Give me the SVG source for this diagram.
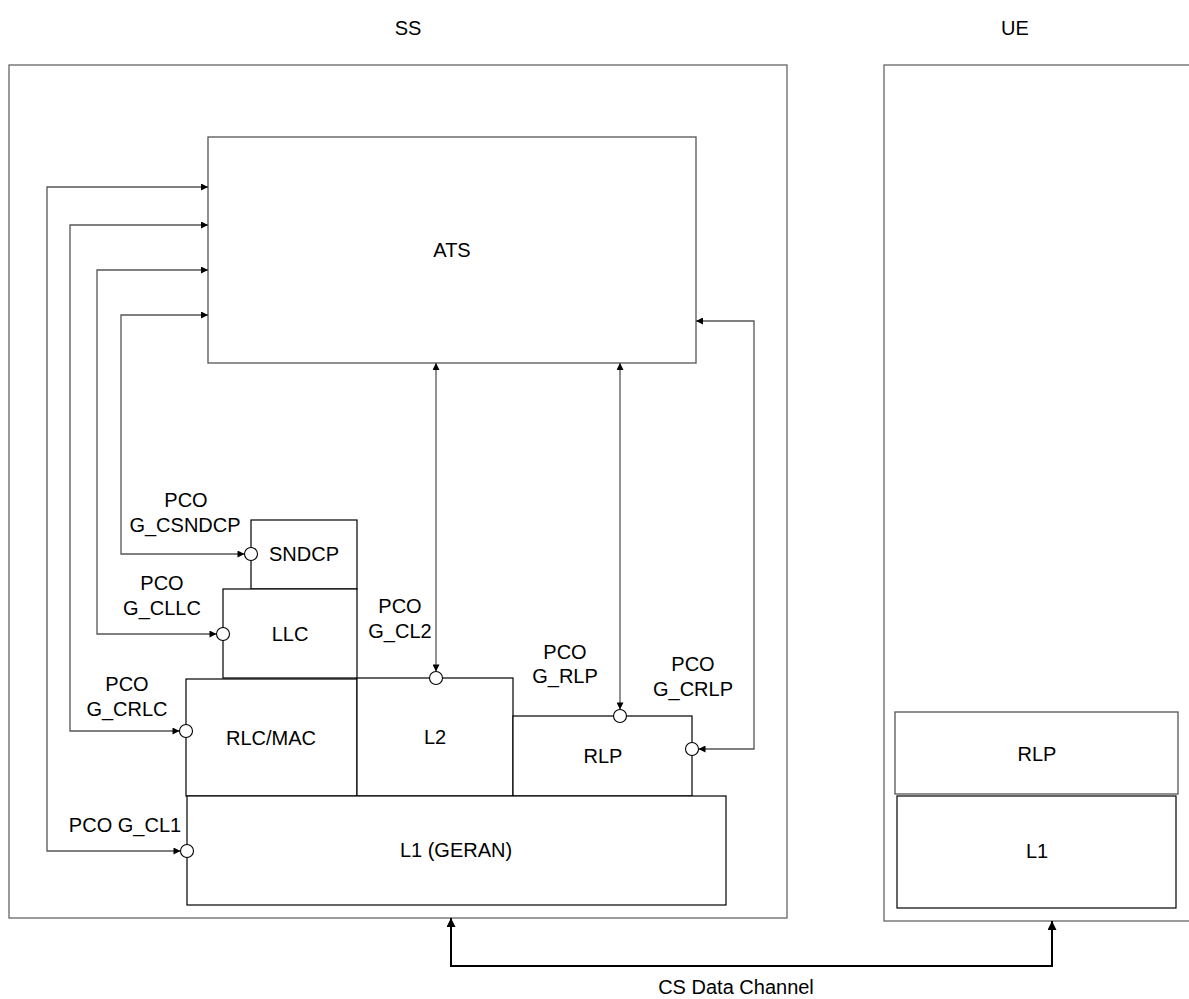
<svg xmlns="http://www.w3.org/2000/svg" width="1189" height="999" viewBox="0 0 1189 999">
<style>
text{font-family:"Liberation Sans",Arial,sans-serif;font-size:20px;fill:#000;text-anchor:middle}
.outer{fill:none;stroke:#666;stroke-width:1.3}
.box{fill:#fff;stroke:#000;stroke-width:1.2}
.gbox{fill:#fff;stroke:#555;stroke-width:1.3}
.pco{fill:#fff;stroke:#000;stroke-width:1.1}
.conn{fill:none;stroke:#555;stroke-width:1.3;marker-start:url(#ah);marker-end:url(#ah)}
.data{fill:none;stroke:#000;stroke-width:2;marker-start:url(#ah2);marker-end:url(#ah2)}
</style>
<defs>
<marker id="ah" viewBox="0 0 10 10" refX="10" refY="5" markerWidth="8" markerHeight="7" markerUnits="userSpaceOnUse" orient="auto-start-reverse"><path d="M0,0 L10,5 L0,10 z" fill="#000"/></marker>
<marker id="ah2" viewBox="0 0 10 10" refX="10" refY="5" markerWidth="12" markerHeight="9" markerUnits="userSpaceOnUse" orient="auto-start-reverse"><path d="M0,0 L10,5 L0,10 z" fill="#000"/></marker>
</defs>
<rect width="1189" height="999" fill="#fff"/>
<g id="ss">
<rect class="outer" x="9" y="65" width="778" height="853"/>
<text x="408" y="35">SS</text>
</g>
<g id="ue">
<rect class="outer" x="884" y="65" width="320" height="856"/>
<text x="1015" y="35">UE</text>
</g>
<g id="ats">
<rect class="gbox" x="208" y="137" width="488" height="226"/>
<text x="452" y="257">ATS</text>
</g>
<g id="sndcp">
<rect class="box" x="251" y="520" width="106" height="69"/>
<text x="304" y="561">SNDCP</text>
</g>
<g id="llc">
<rect class="box" x="223" y="589" width="134" height="89"/>
<text x="290" y="641">LLC</text>
</g>
<g id="rlcmac">
<rect class="box" x="186" y="679" width="171" height="117"/>
<text x="271" y="745">RLC/MAC</text>
</g>
<g id="l2">
<rect class="box" x="357" y="678" width="156" height="118"/>
<text x="435" y="744">L2</text>
</g>
<g id="rlp">
<rect class="box" x="513" y="716" width="179" height="80"/>
<text x="603" y="763">RLP</text>
</g>
<g id="l1geran">
<rect class="box" x="187" y="796" width="539" height="109"/>
<text x="456" y="857">L1 (GERAN)</text>
</g>
<g id="ue_rlp">
<rect class="gbox" x="895" y="712" width="283" height="82"/>
<text x="1037" y="761">RLP</text>
</g>
<g id="ue_l1">
<rect class="box" x="897" y="796" width="279" height="112"/>
<text x="1037" y="858">L1</text>
</g>
<g id="connectors">
<path class="conn" d="M180.5,851 H47 V187 H208"/>
<path class="conn" d="M179.5,731 H70 V225 H208"/>
<path class="conn" d="M216.5,634 H97 V270 H208"/>
<path class="conn" d="M244.5,554 H121 V315 H208"/>
<path class="conn" d="M436,363 V671.5"/>
<path class="conn" d="M620,363 V709.5"/>
<path class="conn" d="M696,321 H754 V749 H698.5"/>
<path class="data" d="M451,918 V966 H1052 V921"/>
</g>
<g id="pcos">
<circle class="pco" cx="187" cy="851" r="6.5"/>
<circle class="pco" cx="186" cy="731" r="6.5"/>
<circle class="pco" cx="223" cy="634" r="6.5"/>
<circle class="pco" cx="251" cy="554" r="6.5"/>
<circle class="pco" cx="436" cy="678" r="6.5"/>
<circle class="pco" cx="620" cy="716" r="6.5"/>
<circle class="pco" cx="692" cy="749" r="6.5"/>
</g>
<g id="labels">
<text x="186" y="507">PCO</text>
<text x="185" y="532">G_CSNDCP</text>
<text x="162" y="590">PCO</text>
<text x="162" y="615">G_CLLC</text>
<text x="400" y="613">PCO</text>
<text x="400" y="638">G_CL2</text>
<text x="565" y="659">PCO</text>
<text x="565" y="683">G_RLP</text>
<text x="693" y="671">PCO</text>
<text x="693" y="696">G_CRLP</text>
<text x="127" y="691">PCO</text>
<text x="127" y="716">G_CRLC</text>
<text x="125" y="832">PCO G_CL1</text>
<text x="736" y="994">CS Data Channel</text>
</g>
</svg>
